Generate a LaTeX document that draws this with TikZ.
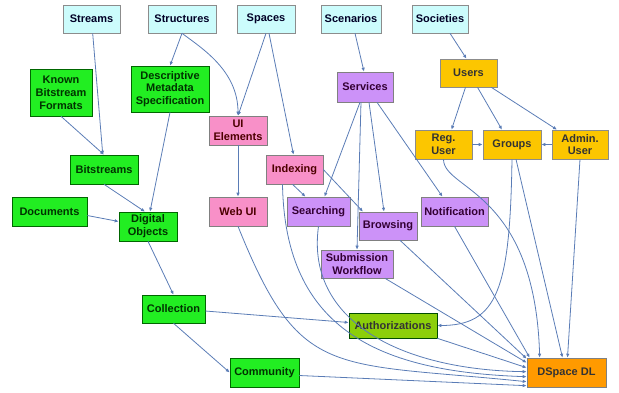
\documentclass[tikz,border=0pt]{standalone}
\usepackage{fontspec}
\setmainfont{Liberation Sans}
\usepackage{xcolor}
\usepackage{tikz}
\usetikzlibrary{arrows.meta,calc,positioning}
\definecolor{linkblue}{HTML}{5A7CB6}
\definecolor{fillcyan}{HTML}{CCFCFC}
\definecolor{fillgreen}{HTML}{22EE22}
\definecolor{fillpink}{HTML}{F890C8}
\definecolor{fillpurple}{HTML}{CC92F8}
\definecolor{fillgold}{HTML}{FCC600}
\definecolor{fillauth}{HTML}{8CCF0A}
\definecolor{filldl}{HTML}{FF9A00}
\tikzset{
  basebox/.style={draw=black!45,line width=0.6pt,align=center,inner sep=1pt,minimum height=29pt,
    font=\bfseries\fontsize{11}{12.8}\selectfont},
  cyanbox/.style={basebox,fill=fillcyan,text=black!85!blue},
  greenbox/.style={basebox,fill=fillgreen,draw=green!40!black,text=green!20!black},
  pinkbox/.style={basebox,fill=fillpink,draw=black!50,text=red!30!black},
  purplebox/.style={basebox,fill=fillpurple,draw=black!50,text=violet!40!black},
  goldbox/.style={basebox,fill=fillgold,draw=black!45,text=black!80},
  authbox/.style={basebox,fill=fillauth,draw=green!30!black,text=black!80},
  dlbox/.style={basebox,fill=filldl,draw=black!50,text=black!80},
  link/.style={-{Latex[length=4pt,width=3.5pt]},line width=0.8pt,linkblue}
}
\begin{document}
\begin{tikzpicture}[x=1pt,y=-1pt]
  \useasboundingbox (0,0) rectangle (619,392);
  % top row
  \node[cyanbox,minimum width=57pt,minimum height=28pt] (streams) at (91.5,19) {Streams};
  \node[cyanbox,minimum width=68pt,minimum height=28pt] (struct) at (182,19) {Structures};
  \node[cyanbox,minimum width=58pt,minimum height=28pt] (spaces) at (266,19) {Spaces};
  \node[cyanbox,minimum width=60pt,minimum height=28pt] (scen) at (351,19) {Scenarios};
  \node[cyanbox,minimum width=56pt,minimum height=28pt] (soc) at (440,19) {Societies};
  % content side
  \node[greenbox,minimum width=62pt,minimum height=47pt] (kbf) at (61,92.5) {Known\\Bitstream\\Formats};
  \node[greenbox,minimum width=78pt,minimum height=46pt] (dms) at (170,89) {Descriptive\\Metadata\\Specification};
  \node[greenbox,minimum width=68pt] (bits) at (104,169.5) {Bitstreams};
  \node[greenbox,minimum width=75pt] (docs) at (49.5,211.5) {Documents};
  \node[greenbox,minimum width=58pt] (digobj) at (148,226.5) {Digital\\Objects};
  \node[greenbox,minimum width=63pt,minimum height=28pt] (coll) at (173.5,309) {Collection};
  \node[greenbox,minimum width=69pt] (comm) at (264.5,372.5) {Community};
  % interface and services
  \node[pinkbox,minimum width=58pt] (uiel) at (238,130.5) {UI\\Elements};
  \node[pinkbox,minimum width=58pt] (webui) at (238,211.5) {Web UI};
  \node[pinkbox,minimum width=57pt] (indexing) at (294.5,169.5) {Indexing};
  \node[purplebox,minimum width=56pt,minimum height=30pt] (services) at (365,87) {Services};
  \node[purplebox,minimum width=63pt] (searching) at (318.5,211.5) {Searching};
  \node[purplebox,minimum width=58pt,minimum height=28pt] (browsing) at (388,226) {Browsing};
  \node[purplebox,minimum width=72pt,minimum height=28pt] (submission) at (357,264) {Submission\\Workflow};
  \node[purplebox,minimum width=67pt] (notif) at (454.5,211.5) {Notification};
  % users
  \node[goldbox,minimum width=57pt,minimum height=28pt] (users) at (468.5,73) {Users};
  \node[goldbox,minimum width=57pt] (reguser) at (443.5,144.5) {Reg.\\User};
  \node[goldbox,minimum width=58pt] (groups) at (512,144.5) {Groups};
  \node[goldbox,minimum width=56pt] (admin) at (580,144.5) {Admin.\\User};
  \node[authbox,minimum width=88pt,minimum height=25pt] (auth) at (393,325.5) {Authorizations};
  \node[dlbox,minimum width=79pt] (dl) at (566.5,372.5) {DSpace DL};

  \draw[link] (streams) -- (bits);
  \draw[link] (kbf.south) -- (bits.north);
  \draw[link] (struct.south) -- (dms.north);
  \draw[link] (struct.south) .. controls +(20,15) and +(0,-45) .. (uiel.north);
  \draw[link] (spaces.south) -- (uiel.north);
  \draw[link] ([xshift=3pt]spaces.south) -- ([xshift=-1pt]indexing.north);
  \draw[link] (uiel) -- (webui);
  \draw[link] (bits.south) -- ([xshift=-3pt]digobj.north);
  \draw[link] (dms.south) -- ([xshift=2pt]digobj.north);
  \draw[link] ([yshift=-4pt]docs.east) -- ([yshift=5pt]digobj.west);
  \draw[link] (digobj.south) -- (coll.north);
  \draw[link] (coll.south) -- (comm.west);
  \draw[link] ([yshift=-2pt]coll.east) -- ([yshift=3pt]auth.west);
  \draw[link] ([xshift=4pt]scen.south) -- ([xshift=-1pt]services.north);
  \draw[link] ([xshift=-5pt]services.south) -- ([xshift=6pt]searching.north);
  \draw[link] ([xshift=-4pt]services.south) -- (submission.north);
  \draw[link] ([xshift=4pt]services.south) -- ([xshift=-4pt]browsing.north);
  \draw[link] ([xshift=12pt]services.south) -- ([xshift=-12pt]notif.north);
  \draw[link] ([xshift=-2pt]indexing.south) -- ([xshift=-13pt]searching.north);
  \draw[link] (indexing.east) -- ([xshift=-25pt]browsing.north);
  \draw[link] ([xshift=10pt]soc.south) -- ([xshift=-2pt]users.north);
  \draw[link] ([xshift=-3pt]users.south) -- ([xshift=8pt]reguser.north);
  \draw[link] ([xshift=9pt]users.south) -- ([xshift=-10pt]groups.north);
  \draw[link] ([xshift=-6pt]users.south east) -- ([xshift=-23pt]admin.north);
  \draw[link] (reguser) -- (groups);
  \draw[link] (admin) -- (groups);
  \draw[link] (groups.south) .. controls +(-2,131) and +(60,0) .. (auth.east);
  % into DSpace DL
  \draw[link] (reguser.south) .. controls +(0,31) and +(-5,-168) .. ([xshift=13pt]dl.north west);
  \draw[link] ([xshift=4pt]groups.south) -- ([xshift=-4pt]dl.north);
  \draw[link] (admin.south) -- ([xshift=1pt]dl.north);
  \draw[link] (notif.south) -- ([xshift=3pt]dl.north west);
  \draw[link] ([xshift=12pt]browsing.south) -- ([yshift=-1pt]dl.north west);
  \draw[link] ([xshift=28pt]submission.south) -- ([yshift=-5pt]dl.north west);
  \draw[link] (auth.south east) -- ([yshift=-10pt]dl.north west);
  \draw[link] (searching.south) .. controls +(-13,94) and +(-127,-2) .. ([yshift=-14pt]dl.north west);
  \draw[link] ([xshift=-12pt]indexing.south) .. controls +(2.5,146) and +(-147,-5) .. ([yshift=-19pt]dl.north west);
  \draw[link] (webui.south) .. controls +(62,154) and +(-197,-20) .. ([yshift=-24pt]dl.north west);
  \draw[link] ([yshift=-3pt]comm.east) -- ([yshift=-28pt]dl.north west);
\end{tikzpicture}
\end{document}
